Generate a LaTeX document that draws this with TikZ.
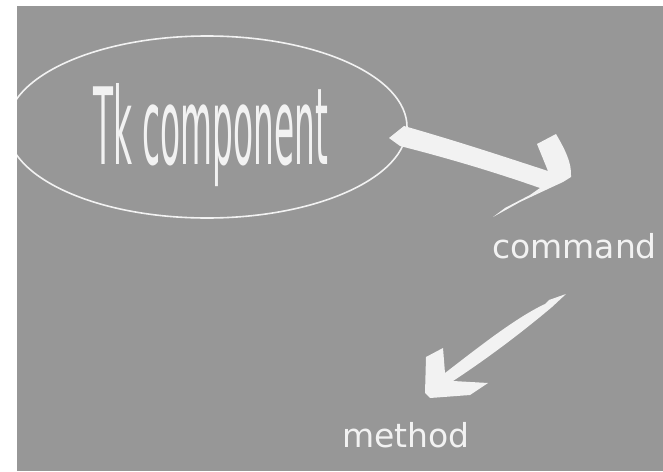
\documentclass[tikz,border=0pt]{standalone}
\usepackage{fontspec}
\setmainfont{DejaVu Sans}
\usetikzlibrary{shapes.geometric}
\definecolor{bggray}{RGB}{151,151,151}
\definecolor{chalk}{RGB}{242,242,242}
\tikzset{
  chalkfill/.style={fill=chalk},
  word/.style={text=chalk, inner sep=0pt, anchor=base west, font=\fontsize{33}{40}\selectfont}
}
\begin{document}
\begin{tikzpicture}[x=1pt,y=-1pt]
            \useasboundingbox (0,0) rectangle (663,471);
            \fill[bggray] (17,6) rectangle (663,471);
            \clip (17,6) rectangle (663,471);

            %nodi
            \node[shape=ellipse, draw=chalk, line width=1.6pt, minimum width=400pt, minimum height=182pt, inner sep=0pt] (tk) at (207,127) {};
            \node[word] (tklabel) at (93,164) {\resizebox{235pt}{81pt}{Tk component}};
            \node[word] (command) at (492,258) {command};
            \node[word] (method) at (342,447) {method};

            %freccia tk -> command
            \fill[chalkfill] (389,138) -- (404,126) .. controls (460,142) and (505,157) .. (548,171)
                -- (537,144) -- (556,134) .. controls (564,148) and (572,162) .. (571,177)
                -- (563,182) -- (550,188) -- (520,202) -- (493,217)
                -- (505,208) -- (530,195) -- (540,188)
                .. controls (500,174) and (455,160) .. (400,146) -- cycle;

            %freccia command -> method
            \fill[chalkfill] (443,348) -- (445,373)
                .. controls (475,350) and (515,318) .. (545,304) -- (549,300) -- (566,294)
                -- (552,307) .. controls (520,334) and (485,360) .. (453,381)
                -- (488,383) -- (470,395) -- (430,398) -- (425,393) -- (426,357) -- cycle;
        \end{tikzpicture}
\end{document}
